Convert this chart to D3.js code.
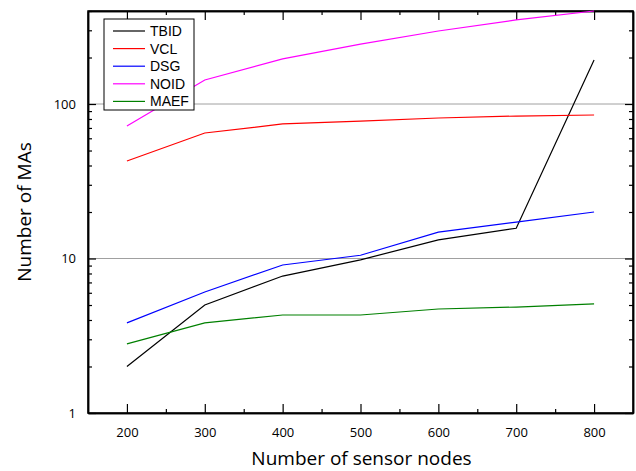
<!DOCTYPE html>
<html>
<head>
<meta charset="utf-8">
<script src="https://cdn.jsdelivr.net/npm/d3@7"></script>
<style>
  body { margin: 0; background: #fff; }
  text { font-family: "Open Sans", "Liberation Sans", sans-serif; }
  .legend text { font-family: "Liberation Sans", Arial, sans-serif; }
</style>
</head>
<body>
<script>
const w = 636;
const h = 471;
const margin = {left: 88, right: 3, top: 11, bottom: 58};

// data
const nodes = [200, 300, 400, 500, 600, 700, 800];
const tbid = [2.0, 5.0, 7.7, 9.8, 13.2, 15.7, 193];
const vcl  = [42.8, 64.9, 74.3, 77.6, 81.2, 83.6, 84.9];
const dsg  = [3.83, 6.07, 9.08, 10.5, 14.8, 17.2, 20.0];
const noid = [72, 143, 196, 244, 297, 350, 400];
const maef = [2.8, 3.83, 4.31, 4.31, 4.71, 4.85, 5.08];

const seriesNames = ["TBID", "VCL", "DSG", "NOID", "MAEF"];
const seriesValues = [tbid, vcl, dsg, noid, maef];
const colors = ["#000000", "#ff0000", "#0000ff", "#ff00ff", "#008000"];

const xTicks = [200, 300, 400, 500, 600, 700, 800];
const yTicks = [1, 10, 100];

const svg = d3.select("body")
  .append("svg")
  .attr("width", w)
  .attr("height", h);

const x = d3.scaleLinear()
  .domain([150, 850])
  .range([margin.left, w - margin.right]);

const y = d3.scaleLog()
  .domain([1, 400])
  .range([h - margin.bottom, margin.top]);

const plotL = margin.left, plotR = w - margin.right;
const plotT = margin.top, plotB = h - margin.bottom;

// grid lines at 10 and 100
svg.selectAll(".grid")
  .data([10, 100])
  .enter()
  .append("line")
  .attr("x1", plotL).attr("x2", plotR)
  .attr("y1", d => y(d)).attr("y2", d => y(d))
  .attr("stroke", "#a0a0a0")
  .attr("stroke-width", 1);

// minor ticks
const xMinor = d3.range(250, 850, 100);
const yMinor = [];
[1, 10, 100].forEach(dec => {
  for (let k = 2; k <= 9; k++) if (dec * k <= 400) yMinor.push(dec * k);
});

// x axes (bottom and top), ticks inside
svg.append("g")
  .attr("transform", "translate(0," + plotB + ")")
  .call(d3.axisBottom(x).tickValues(xTicks).tickSizeInner(-9).tickSizeOuter(0).tickPadding(15))
  .call(g => g.selectAll("text").attr("font-size", 13).attr("fill", "#000"));

svg.append("g")
  .attr("transform", "translate(0," + plotB + ")")
  .call(d3.axisBottom(x).tickValues(xMinor).tickSizeInner(-4).tickSizeOuter(0).tickFormat(""));

svg.append("g")
  .attr("transform", "translate(0," + plotT + ")")
  .call(d3.axisTop(x).tickValues(xTicks).tickSizeInner(-9).tickSizeOuter(0).tickFormat(""));
svg.append("g")
  .attr("transform", "translate(0," + plotT + ")")
  .call(d3.axisTop(x).tickValues(xMinor).tickSizeInner(-4).tickSizeOuter(0).tickFormat(""));

// y axes (left and right)
svg.append("g")
  .attr("transform", "translate(" + plotL + ",0)")
  .call(d3.axisLeft(y).tickValues(yTicks).tickSizeInner(-8).tickSizeOuter(0).tickPadding(12).tickFormat(d3.format("d")))
  .call(g => g.selectAll("text").attr("font-size", 13).attr("fill", "#000"));
svg.append("g")
  .attr("transform", "translate(" + plotL + ",0)")
  .call(d3.axisLeft(y).tickValues(yMinor).tickSizeInner(-4).tickSizeOuter(0).tickFormat(""));

svg.append("g")
  .attr("transform", "translate(" + plotR + ",0)")
  .call(d3.axisRight(y).tickValues(yTicks).tickSizeInner(-8).tickSizeOuter(0).tickFormat(""));
svg.append("g")
  .attr("transform", "translate(" + plotR + ",0)")
  .call(d3.axisRight(y).tickValues(yMinor).tickSizeInner(-4).tickSizeOuter(0).tickFormat(""));

svg.selectAll(".domain").attr("stroke-width", 1.5);
svg.selectAll(".tick line").attr("stroke-width", 1.2);

// frame
svg.append("rect")
  .attr("x", plotL).attr("y", plotT)
  .attr("width", plotR - plotL).attr("height", plotB - plotT)
  .attr("fill", "none")
  .attr("stroke", "#000")
  .attr("stroke-width", 1.5);

// lines
const line = d3.line()
  .x((d, i) => x(nodes[i]))
  .y(d => y(d));

svg.selectAll(".series")
  .data(seriesValues)
  .enter()
  .append("path")
  .attr("d", d => line(d))
  .attr("fill", "none")
  .attr("stroke", (d, i) => colors[i])
  .attr("stroke-width", 1.2);

// legend
const legend = svg.append("g").attr("class", "legend").attr("transform", "translate(104,19)");
legend.append("rect")
  .attr("width", 90).attr("height", 91)
  .attr("fill", "#fff")
  .attr("stroke", "#000")
  .attr("stroke-width", 1);

const items = legend.selectAll(".item")
  .data(seriesNames)
  .enter()
  .append("g")
  .attr("transform", (d, i) => "translate(0," + (12 + i * 17.6) + ")");

items.append("line")
  .attr("x1", 9).attr("x2", 41)
  .attr("stroke", (d, i) => colors[i])
  .attr("stroke-width", 1.2);

items.append("text")
  .attr("x", 46)
  .attr("dy", "0.36em")
  .attr("font-size", 14)
  .text(d => d);

// axis titles
svg.append("text")
  .attr("x", (plotL + plotR) / 2 + 1)
  .attr("y", 465)
  .attr("text-anchor", "middle")
  .attr("font-size", 19)
  .text("Number of sensor nodes");

svg.append("text")
  .attr("transform", "translate(31," + ((plotT + plotB) / 2) + ") rotate(-90)")
  .attr("text-anchor", "middle")
  .attr("font-size", 19)
  .text("Number of MAs");
</script>
</body>
</html>
